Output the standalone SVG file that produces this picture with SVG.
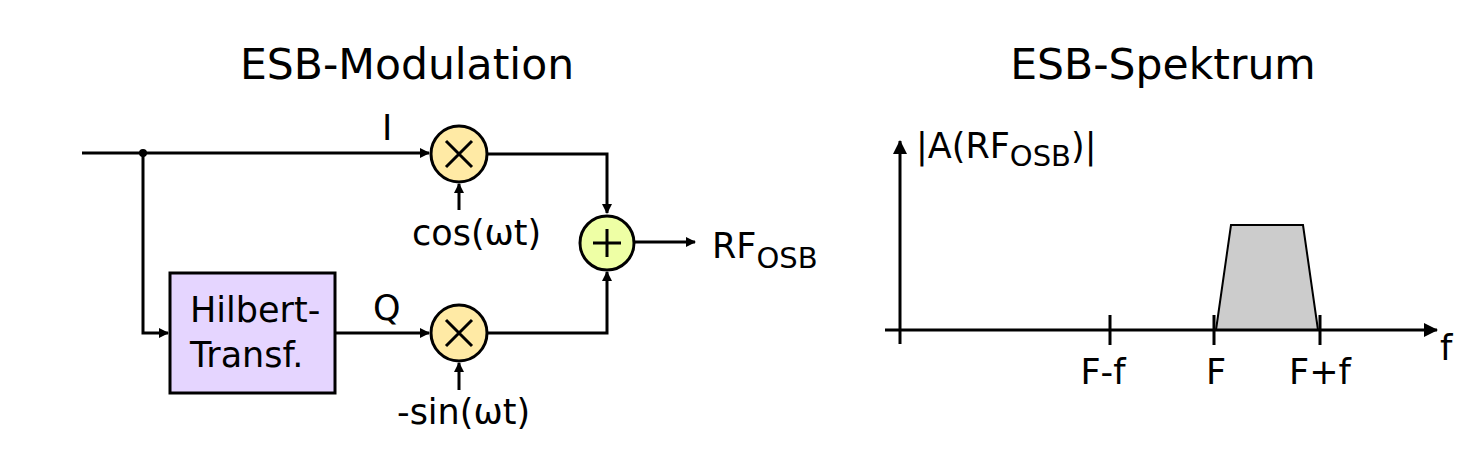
<svg xmlns="http://www.w3.org/2000/svg" width="1470" height="450" viewBox="0 0 1470 450">
<style>
text{font-family:"DejaVu Sans",sans-serif;fill:#000}
.t{font-size:42.5px;text-anchor:middle}
.l{font-size:35px}
.w{stroke:#000;stroke-width:3;fill:none}
.m{fill:#ffeaa5;stroke:#000;stroke-width:3}
</style>
<defs>
<marker id="a" markerWidth="10" markerHeight="10" refX="9" refY="5" orient="auto" markerUnits="userSpaceOnUse" viewBox="0 0 10 10"><path d="M0,0L10,5L0,10z" fill="#000"/></marker>
<marker id="b" markerWidth="14" markerHeight="14" refX="13" refY="7" orient="auto" markerUnits="userSpaceOnUse" viewBox="0 0 14 14"><path d="M0,0L14,7L0,14z" fill="#000"/></marker>
</defs>
<rect width="1470" height="450" fill="#fff"/>
<text class="t" x="407" y="79">ESB-Modulation</text>
<text class="t" x="1163" y="79">ESB-Spektrum</text>
<g id="connectors">
<path class="w" d="M82,153H429" marker-end="url(#a)"/>
<path class="w" d="M143,153V333H168" marker-end="url(#a)"/>
<path class="w" d="M335,333H429" marker-end="url(#a)"/>
<path class="w" d="M459,210V184" marker-end="url(#a)"/>
<path class="w" d="M459,390V363" marker-end="url(#a)"/>
<path class="w" d="M488,154H607V213" marker-end="url(#a)"/>
<path class="w" d="M488,333H607V272" marker-end="url(#a)"/>
<path class="w" d="M635,242H695" marker-end="url(#a)"/>
<circle cx="143" cy="153" r="4"/>
</g>
<text class="l" x="382" y="140">I</text>
<text class="l" x="373" y="320">Q</text>
<text class="l" x="412" y="245">cos(ωt)</text>
<text class="l" x="397" y="424">-sin(ωt)</text>
<text class="l" x="712" y="258">RF<tspan font-size="29" dy="10">OSB</tspan></text>
<g id="hilbert">
<rect x="170" y="273" width="165" height="120" fill="#e5d5ff" stroke="#000" stroke-width="3"/>
<text class="l" x="190" y="322">Hilbert-</text>
<text class="l" x="190" y="367">Transf.</text>
</g>
<g id="mulI"><circle class="m" cx="459" cy="154" r="28"/><path class="w" d="M446,141L472,167M472,141L446,167" stroke-width="2.5"/></g>
<g id="mulQ"><circle class="m" cx="459" cy="333" r="28"/><path class="w" d="M446,320L472,346M472,320L446,346" stroke-width="2.5"/></g>
<g id="sum"><circle cx="607" cy="243" r="27" fill="#eeffa5" stroke="#000" stroke-width="3"/><path class="w" d="M607,229V257M593,243H621" stroke-width="2.5"/></g>
<g id="spectrum">
<path d="M1216,330L1231,225H1303L1318,330Z" fill="#ccc" stroke="#000" stroke-width="2"/>
<path class="w" d="M900,344V141" marker-end="url(#b)"/>
<path class="w" d="M885,330H1437" marker-end="url(#b)"/>
<path class="w" d="M1110,315V345M1214,315V345M1320,315V345"/>
<text class="l" x="916" y="158">|A(RF<tspan font-size="29" dy="8">OSB</tspan><tspan dy="-8">)|</tspan></text>
<text class="l" x="1103" y="384" text-anchor="middle">F-f</text>
<text class="l" x="1216" y="384" text-anchor="middle">F</text>
<text class="l" x="1320" y="384" text-anchor="middle">F+f</text>
<text class="l" x="1440" y="360">f</text>
</g>
</svg>
